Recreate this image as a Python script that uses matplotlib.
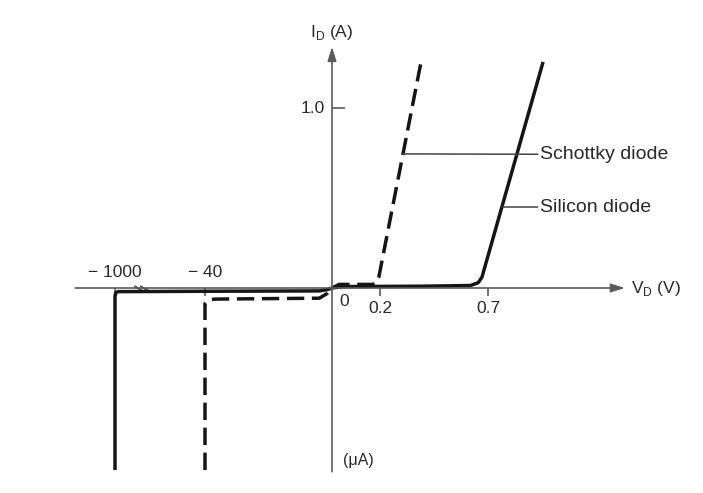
import numpy as np
import matplotlib
matplotlib.use("Agg")
import matplotlib.pyplot as plt
from matplotlib.markers import TICKDOWN, TICKRIGHT

plt.rcParams["font.family"] = ["Liberation Sans", "DejaVu Sans"]
plt.rcParams["mathtext.fontset"] = "custom"
plt.rcParams["mathtext.rm"] = "Liberation Sans"

# ---- I-V characteristics (voltage in V, current in A) ----
silicon_v = [-1000, -1000, -992, -970, -40, -4, -1.5, 0, 0.05, 0.40, 0.62, 0.655, 0.672, 0.955]
silicon_i = [-100e-6, -4.5e-6, -2.6e-6, -2.0e-6, -1.8e-6, -1.6e-6, -0.9e-6, 0, 0.008, 0.010,
             0.014, 0.030, 0.060, 1.256]

schottky_v = [-40, -40, -39, -37, -4, -1.5, 0, 0.03, 0.17, 0.185, 0.195, 0.394]
schottky_i = [-100e-6, -8.5e-6, -6.6e-6, -6.1e-6, -5.6e-6, -3.0e-6, 0, 0.020, 0.020,
              0.030, 0.060, 1.28]

x_ticks = [-1000, -40, 0.2, 0.7]
x_tick_labels = ["\u2212 1000", "\u2212 40", "0.2", "0.7"]
y_ticks = [1.0]
y_tick_labels = ["1.0"]

# ---- broken, piecewise-linear axes (reverse side compressed, reverse current in uA) ----
v_knots = [-5000, -1000, -40, 0, 0.2, 0.7, 3.0]
v_pos = [-400, -217, -127, 0, 48, 156, 156 + 2.3 * 216]
i_knots = [-1e-3, 0, 3.0]
i_pos = [-1820, 0, 540]


def v_fwd(v):
    return np.interp(v, v_knots, v_pos)


def v_inv(p):
    return np.interp(p, v_pos, v_knots)


def i_fwd(i):
    return np.interp(i, i_knots, i_pos)


def i_inv(p):
    return np.interp(p, i_pos, i_knots)


fig = plt.figure(figsize=(7.03, 4.93), dpi=100)
ax = fig.add_axes([0, 0, 1, 1])
ax.set_xscale("function", functions=(v_fwd, v_inv))
ax.set_yscale("function", functions=(i_fwd, i_inv))
ax.set_xlim(v_inv(-332), v_inv(371))
ax.set_ylim(i_inv(-205), i_inv(288))
ax.axis("off")

axis_col = "#5a5a5a"
ink = "#151515"
txt = "#2a2a2a"

# coordinate axes with arrow heads
arrow = dict(arrowstyle="-|>,head_length=0.7,head_width=0.22", color=axis_col,
             lw=1.2, shrinkA=0, shrinkB=0, mutation_scale=12)
ax.annotate("", xy=(0.889, 0), xytext=(0.107, 0),
            xycoords=ax.get_yaxis_transform(), arrowprops=arrow)
ax.annotate("", xy=(0, 0.905), xytext=(0, 0.043),
            xycoords=ax.get_xaxis_transform(), arrowprops=arrow)

# axis break marks on the reverse-voltage side
for vb in (-760, -690):
    ax.plot(vb, 0, marker=(2, 2, 60), markersize=7, color=axis_col, mew=1.1)

# ticks
for v in x_ticks:
    ax.plot(v, 0, marker=TICKDOWN, markersize=6, color=axis_col, mew=1.2)
for i in y_ticks:
    ax.plot(0, i, marker=TICKRIGHT, markersize=9, color=axis_col, mew=1.2)

fs = 12.5
for v, lab in zip(x_ticks, x_tick_labels):
    if v < 0:
        ax.annotate(lab, xy=(v, 0), xytext=(0, 11.5), textcoords="offset points",
                    ha="center", va="center", fontsize=fs, color=txt)
    else:
        ax.annotate(lab, xy=(v, 0), xytext=(0, -15), textcoords="offset points",
                    ha="center", va="center", fontsize=fs, color=txt)
ax.annotate("0", xy=(0, 0), xytext=(9, -10), textcoords="offset points",
            ha="center", va="center", fontsize=fs, color=txt)
for i, lab in zip(y_ticks, y_tick_labels):
    ax.annotate(lab, xy=(0, i), xytext=(-5, 0), textcoords="offset points",
                ha="right", va="center", fontsize=fs, color=txt)

# axis titles
ax.text(0, 0.935, r"I$_{\rm D}$ (A)", transform=ax.get_xaxis_transform(),
        ha="center", va="center", fontsize=fs, color=txt)
ax.text(0.897, 0, r"V$_{\rm D}$ (V)", transform=ax.get_yaxis_transform(),
        ha="left", va="center", fontsize=fs, color=txt)
ax.annotate("(\u03bcA)", xy=(0, 0.065), xycoords=ax.get_xaxis_transform(),
            xytext=(8, 0), textcoords="offset points",
            ha="left", va="center", fontsize=fs - 1, color=txt)

# curves
ax.plot(silicon_v, silicon_i, color=ink, lw=2.5, solid_joinstyle="round",
        solid_capstyle="butt")
ax.plot(schottky_v, schottky_i, color=ink, lw=2.5, linestyle=(0, (5, 2.2)),
        dash_joinstyle="round")

# leader labels
lead = dict(arrowstyle="-", color="#444444", lw=1.1, shrinkA=0, shrinkB=0)
ax.annotate("Schottky diode", xy=(0.305, 0.745), xytext=(0.943, 0.742),
            ha="left", va="center", fontsize=14, color=txt, arrowprops=lead)
ax.annotate("Silicon diode", xy=(0.766, 0.45), xytext=(0.943, 0.45),
            ha="left", va="center", fontsize=14, color=txt, arrowprops=lead)

fig.savefig("out.png", dpi=100, facecolor="white")
